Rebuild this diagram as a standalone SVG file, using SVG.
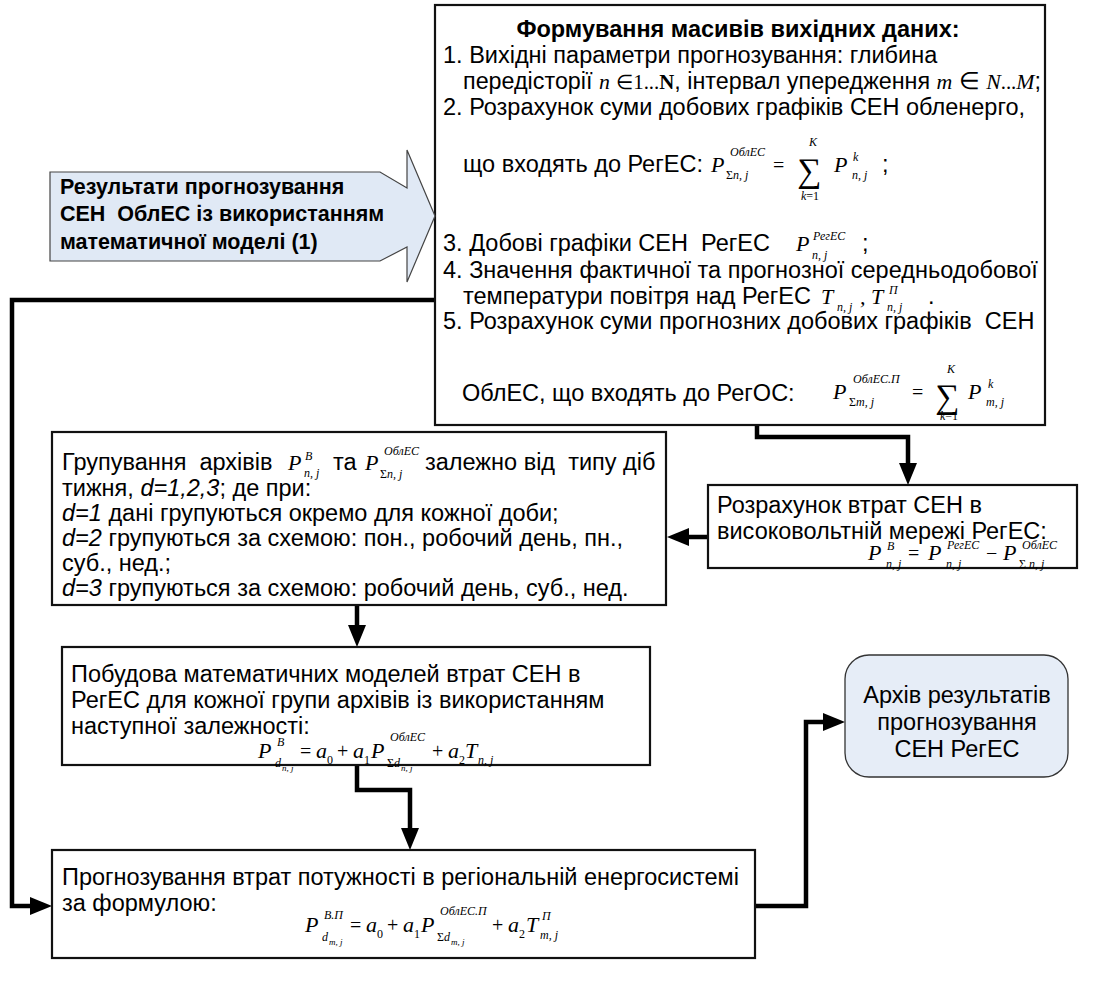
<svg xmlns="http://www.w3.org/2000/svg" width="1100" height="986" viewBox="0 0 1100 986">
  <style>
    .box { fill: #ffffff; stroke: #111; stroke-width: 2.2; }
    .t { font-family: "Liberation Sans", Arial, sans-serif; font-size: 23.5px; fill: #000; }
    .tb { font-family: "Liberation Sans", Arial, sans-serif; font-size: 23.5px; font-weight: bold; fill: #000; }
    .cb { font-family: "Liberation Sans", Arial, sans-serif; font-size: 21.5px; font-weight: bold; fill: #000; }
    .m { font-family: "Liberation Serif", "Times New Roman", serif; font-style: italic; font-size: 22px; fill: #000; }
    .mr { font-family: "Liberation Serif", "Times New Roman", serif; font-size: 20px; fill: #000; }
    .s { font-family: "Liberation Serif", "Times New Roman", serif; font-style: italic; font-size: 12px; fill: #000; }
    .ss { font-family: "Liberation Serif", "Times New Roman", serif; font-style: italic; font-size: 9px; fill: #000; }
    .sig { font-family: "Liberation Serif", "Times New Roman", serif; font-size: 34px; fill: #000; }
    .up { font-style: normal; }
    .it { font-style: italic; }
    .wire { fill: none; stroke: #000; stroke-width: 4.5; stroke-linejoin: miter; }
  </style>
  <defs>
    <marker id="arrow" markerUnits="userSpaceOnUse" viewBox="0 0 22 18" markerWidth="22" markerHeight="18" refX="1" refY="9" orient="auto">
      <path d="M0,0 L22,9 L0,18 z" fill="#000"/>
    </marker>
  </defs>

  <!-- connectors -->
  <g id="connectors">
    <path class="wire" d="M757,425 V437 H908 V464" marker-end="url(#arrow)"/>
    <path class="wire" d="M708,537 H688" marker-end="url(#arrow)"/>
    <path class="wire" d="M357,605 V626" marker-end="url(#arrow)"/>
    <path class="wire" d="M357,765 V790 H410 V829" marker-end="url(#arrow)"/>
    <path class="wire" d="M435,300 H12 V906 H31" marker-end="url(#arrow)"/>
    <path class="wire" d="M755,906 H806 V722 H824" marker-end="url(#arrow)"/>
  </g>

  <!-- input data arrays -->
  <g id="node-input">
    <rect class="box" x="435" y="5" width="610" height="420"/>
    <text class="tb" x="738" y="37" text-anchor="middle">Формування масивів вихідних даних:</text>
    <text class="t" x="443" y="63">1. Вихідні параметри прогнозування: глибина</text>
    <text class="t" x="463" y="89" textLength="578" lengthAdjust="spacingAndGlyphs">передісторії <tspan class="m" font-size="21">n</tspan> <tspan font-family="Liberation Serif" font-size="20">∈</tspan><tspan font-family="Liberation Serif" font-size="21">1...</tspan><tspan font-family="Liberation Serif" font-weight="bold" font-size="21">N</tspan>, інтервал упередження <tspan class="m" font-size="21">m</tspan> ∈ <tspan class="m" font-size="21">N</tspan><tspan font-family="Liberation Serif" font-size="21">...</tspan><tspan class="m" font-size="21">M</tspan>;</text>
    <text class="t" x="443" y="115">2. Розрахунок суми добових графіків СЕН обленерго,</text>
    <text class="t" x="463" y="172">що входять до РегЕС:</text>
    <text class="m" x="711" y="172">P</text>
    <text class="s" x="730" y="156">ОблЕС</text>
    <text class="s" x="726" y="179"><tspan class="up">Σ</tspan>n, j</text>
    <text class="mr" x="773" y="172">=</text>
    <text class="sig" x="797" y="182">∑</text>
    <text class="s" x="809" y="146">K</text>
    <text class="s" x="801" y="200">k<tspan class="up">=1</tspan></text>
    <text class="m" x="834" y="172">P</text>
    <text class="s" x="853" y="161">k</text>
    <text class="s" x="852" y="179">n, j</text>
    <text class="t" x="882" y="172">;</text>
    <text class="t" x="443" y="251">3. Добові графіки СЕН&#160; РегЕС</text>
    <text class="m" x="796" y="251">P</text>
    <text class="s" x="813" y="240">РегЕС</text>
    <text class="s" x="812" y="259">n, j</text>
    <text class="t" x="862" y="251">;</text>
    <text class="t" x="443" y="278">4. Значення фактичної та прогнозної середньодобової</text>
    <text class="t" x="463" y="304">температури повітря над РегЕС</text>
    <text class="m" x="821" y="304" font-size="24">T</text>
    <text class="s" x="837" y="311">n, j</text>
    <text class="m" x="860" y="304">,</text>
    <text class="m" x="871" y="304" font-size="24">T</text>
    <text class="s" x="889" y="294">П</text>
    <text class="s" x="887" y="311">n, j</text>
    <text class="t" x="928" y="304">.</text>
    <text class="t" x="443" y="329">5. Розрахунок суми прогнозних добових графіків&#160; СЕН</text>
    <text class="t" x="462" y="401">ОблЕС, що входять до РегОС:</text>
    <text class="m" x="833" y="399">P</text>
    <text class="s" x="853" y="383">ОблЕС.П</text>
    <text class="s" x="849" y="406"><tspan class="up">Σ</tspan>m, j</text>
    <text class="mr" x="912" y="399">=</text>
    <text class="sig" x="935" y="408">∑</text>
    <text class="s" x="947" y="373">K</text>
    <text class="s" x="940" y="420">k<tspan class="up">=1</tspan></text>
    <text class="m" x="968" y="399">P</text>
    <text class="s" x="988" y="388">k</text>
    <text class="s" x="986" y="406">m, j</text>
  </g>

  <!-- results of regional forecasts (callout) -->
  <g id="node-results">
    <polygon points="50,172 380,172 407,188 407,150 435,216 407,282 407,247 380,261 50,261" fill="#e0e9f5" stroke="#444" stroke-width="1.2"/>
    <text class="cb" x="60" y="194">Результати прогнозування</text>
    <text class="cb" x="60" y="221">СЕН&#160; ОблЕС із використанням</text>
    <text class="cb" x="60" y="249">математичної моделі (1)</text>
  </g>

  <!-- losses in the high-voltage grid -->
  <g id="node-losses">
    <rect class="box" x="708" y="485" width="369" height="83"/>
    <text class="t" x="717" y="513">Розрахунок втрат СЕН в</text>
    <text class="t" x="717" y="539">високовольтній мережі РегЕС:</text>
    <text class="m" x="868" y="560">P</text>
    <text class="s" x="887" y="550">B</text>
    <text class="s" x="886" y="568">n, j</text>
    <text class="mr" x="908" y="560">=</text>
    <text class="m" x="928" y="560">P</text>
    <text class="s" x="947" y="549">РегЕС</text>
    <text class="s" x="946" y="568">n, j</text>
    <text class="mr" x="986" y="560">−</text>
    <text class="m" x="1003" y="560">P</text>
    <text class="s" x="1022" y="549">ОблЕС</text>
    <text class="s" x="1019" y="568"><tspan class="up">Σ</tspan> n, j</text>
  </g>

  <!-- grouping of archives by day type -->
  <g id="node-grouping">
    <rect class="box" x="52" y="432" width="614" height="173"/>
    <text class="t" x="62" y="470">Групування&#160; архівів</text>
    <text class="m" x="288" y="470">P</text>
    <text class="s" x="305" y="460">B</text>
    <text class="s" x="304" y="477">n, j</text>
    <text class="t" x="333" y="470">та</text>
    <text class="m" x="365" y="470">P</text>
    <text class="s" x="384" y="455">ОблЕС</text>
    <text class="s" x="380" y="478"><tspan class="up">Σ</tspan>n, j</text>
    <text class="t" x="425" y="470">залежно від&#160; типу діб</text>
    <text class="t" x="62" y="496">тижня, <tspan class="it">d=1,2,3</tspan>; де при:</text>
    <text class="t" x="62" y="521"><tspan class="it">d=1</tspan> дані групуються окремо для кожної доби;</text>
    <text class="t" x="62" y="546"><tspan class="it">d=2</tspan> групуються за схемою: пон., робочий день, пн.,</text>
    <text class="t" x="62" y="571">суб., нед.;</text>
    <text class="t" x="62" y="596"><tspan class="it">d=3</tspan> групуються за схемою: робочий день, суб., нед.</text>
  </g>

  <!-- building the loss models -->
  <g id="node-models">
    <rect class="box" x="62" y="647" width="588" height="118"/>
    <text class="t" x="71" y="682">Побудова математичних моделей втрат СЕН в</text>
    <text class="t" x="71" y="708">РегЕС для кожної групи архівів із використанням</text>
    <text class="t" x="71" y="734">наступної залежності:</text>
    <text class="m" x="258" y="758">P</text>
    <text class="s" x="277" y="746">B</text>
    <text class="s" x="275" y="767">d</text>
    <text class="ss" x="282" y="771">n, j</text>
    <text class="mr" x="300" y="758">=</text>
    <text class="m" x="316" y="758">a</text>
    <text class="s up" x="327" y="764">0</text>
    <text class="mr" x="337" y="758">+</text>
    <text class="m" x="353" y="758">a</text>
    <text class="s up" x="364" y="764">1</text>
    <text class="m" x="371" y="758">P</text>
    <text class="s" x="390" y="741">ОблЕС</text>
    <text class="s" x="387" y="767"><tspan class="up">Σ</tspan>d</text>
    <text class="ss" x="401" y="771">n, j</text>
    <text class="mr" x="432" y="758">+</text>
    <text class="m" x="448" y="758">a</text>
    <text class="s up" x="459" y="764">2</text>
    <text class="m" x="465" y="758">T</text>
    <text class="s" x="478" y="764">n, j</text>
  </g>

  <!-- forecasting the losses -->
  <g id="node-forecast">
    <rect class="box" x="52" y="850" width="703" height="108"/>
    <text class="t" x="62" y="885">Прогнозування втрат потужності в регіональній енергосистемі</text>
    <text class="t" x="62" y="911">за формулою:</text>
    <text class="m" x="305" y="932">P</text>
    <text class="s" x="324" y="919">B.П</text>
    <text class="s" x="322" y="941">d</text>
    <text class="ss" x="329" y="945">m, j</text>
    <text class="mr" x="350" y="932">=</text>
    <text class="m" x="366" y="932">a</text>
    <text class="s up" x="377" y="938">0</text>
    <text class="mr" x="387" y="932">+</text>
    <text class="m" x="403" y="932">a</text>
    <text class="s up" x="414" y="938">1</text>
    <text class="m" x="421" y="932">P</text>
    <text class="s" x="440" y="915">ОблЕС.П</text>
    <text class="s" x="437" y="941"><tspan class="up">Σ</tspan>d</text>
    <text class="ss" x="451" y="945">m, j</text>
    <text class="mr" x="492" y="932">+</text>
    <text class="m" x="508" y="932">a</text>
    <text class="s up" x="519" y="938">2</text>
    <text class="m" x="526" y="932">T</text>
    <text class="s" x="542" y="920">П</text>
    <text class="s" x="540" y="939">m, j</text>
  </g>

  <!-- archive of forecast results -->
  <g id="node-archive">
    <rect x="845" y="655" width="223" height="122" rx="24" fill="#e6edf7" stroke="#333" stroke-width="1.3"/>
    <text class="t" x="957" y="703" text-anchor="middle" font-size="21">Архів результатів</text>
    <text class="t" x="957" y="730" text-anchor="middle" font-size="21">прогнозування</text>
    <text class="t" x="957" y="757" text-anchor="middle" font-size="21">СЕН РегЕС</text>
  </g>
</svg>
